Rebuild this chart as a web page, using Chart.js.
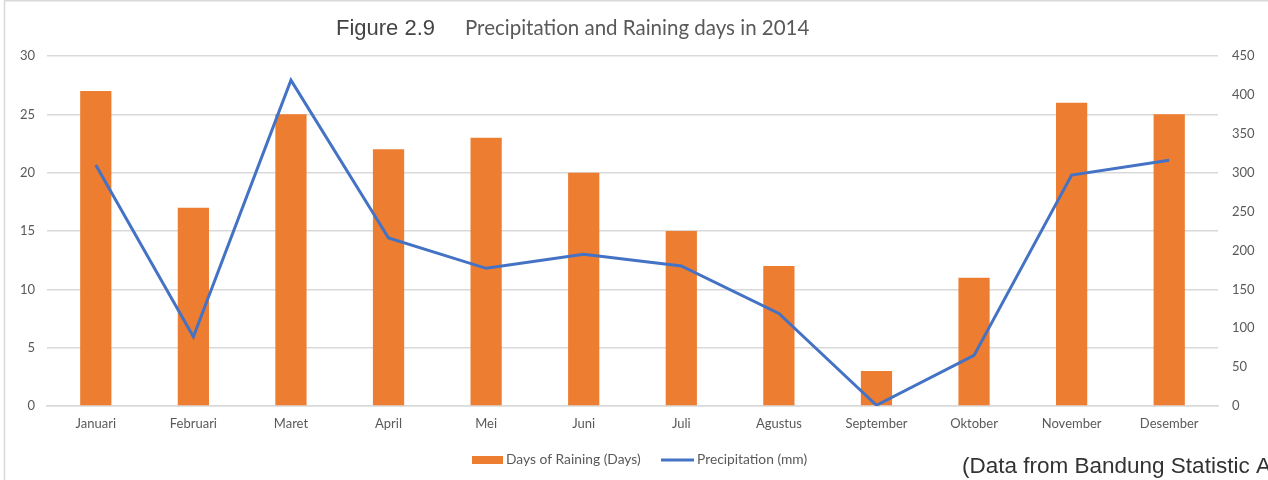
<!DOCTYPE html>
<html>
<head>
<meta charset="utf-8">
<script src="https://cdn.jsdelivr.net/npm/chart.js@4"></script>
<style>
  html, body { margin: 0; padding: 0; background: #fff; }
  #wrap { position: relative; width: 1268px; height: 480px; }
</style>
</head>
<body>
<div id="wrap"><canvas id="c" width="1268" height="480"></canvas></div>
<script>
const months = ["Januari","Februari","Maret","April","Mei","Juni","Juli","Agustus","September","Oktober","November","Desember"];
const rainingDays = [27, 17, 25, 22, 23, 20, 15, 12, 3, 11, 26, 25];
const precipitation = [310, 89, 419, 216, 177, 195, 180, 119, 1, 65, 297, 316];
const leftTicks = [0, 5, 10, 15, 20, 25, 30];
const rightTicks = [0, 50, 100, 150, 200, 250, 300, 350, 400, 450];
const figureLabel = "Figure 2.9";
const titleText = "Precipitation and Raining days in 2014";
const sourceText = "(Data from Bandung Statistic Agency)";

const FONT = "Lato, 'Open Sans', sans-serif";
const TICK_COLOR = "#595959";
const BAR_COLOR = "#ED7D31";
const LINE_COLOR = "#4472C4";

const decor = {
  id: 'decor',
  afterDraw(chart) {
    const ctx = chart.ctx;
    const barDs = chart.data.datasets.find(d => d.type === 'bar');
    const lineDs = chart.data.datasets.find(d => d.type === 'line');
    ctx.save();
    // frame
    ctx.strokeStyle = '#d9d9d9';
    ctx.lineWidth = 1.5;
    ctx.beginPath();
    ctx.moveTo(4.5, 480);
    ctx.lineTo(4.5, 0.75);
    ctx.lineTo(1268, 0.75);
    ctx.stroke();
    // title
    ctx.textBaseline = 'alphabetic';
    ctx.textAlign = 'left';
    ctx.fillStyle = '#444';
    ctx.font = "22px 'Liberation Sans', Arial, sans-serif";
    ctx.fillText(figureLabel, 336, 35);
    ctx.fillStyle = '#595959';
    ctx.font = "20.5px " + FONT;
    ctx.fillText(titleText, 465, 35);
    // legend
    ctx.font = "13.8px " + FONT;
    ctx.fillStyle = barDs.backgroundColor;
    ctx.fillRect(472, 456, 31, 8);
    ctx.fillStyle = TICK_COLOR;
    ctx.textBaseline = 'middle';
    ctx.fillText(barDs.label, 506, 460);
    ctx.strokeStyle = lineDs.borderColor;
    ctx.lineWidth = 3;
    ctx.beginPath();
    ctx.moveTo(661, 460);
    ctx.lineTo(694, 460);
    ctx.stroke();
    ctx.fillText(lineDs.label, 697, 460);
    // source
    ctx.fillStyle = '#333';
    ctx.font = "22.5px 'Liberation Sans', Arial, sans-serif";
    ctx.textBaseline = 'alphabetic';
    ctx.fillText(sourceText, 962, 473);
    ctx.restore();
  }
};

new Chart(document.getElementById('c'), {
  data: {
    labels: months,
    datasets: [
      {
        type: 'line',
        label: 'Precipitation (mm)',
        data: precipitation,
        yAxisID: 'yR',
        borderColor: LINE_COLOR,
        backgroundColor: LINE_COLOR,
        borderWidth: 3,
        pointRadius: 0,
        tension: 0,
        order: 0
      },
      {
        type: 'bar',
        label: 'Days of Raining (Days)',
        data: rainingDays,
        yAxisID: 'yL',
        backgroundColor: BAR_COLOR,
        borderWidth: 0,
        categoryPercentage: 1,
        barPercentage: 0.32,
        order: 1
      }
    ]
  },
  options: {
    responsive: false,
    animation: false,
    layout: { padding: { top: 56, bottom: 0, left: 0, right: 0 } },
    plugins: { legend: { display: false }, tooltip: { enabled: false } },
    scales: {
      x: {
        grid: { display: false, drawTicks: false },
        border: { display: true, color: '#d9d9d9', width: 1.5 },
        ticks: { color: TICK_COLOR, font: { family: FONT, size: 13 }, padding: 10, maxRotation: 0 },
        afterFit(s) { s.height = 74; }
      },
      yL: {
        position: 'left',
        min: 0, max: 30,
        afterBuildTicks(s) { s.ticks = leftTicks.map(v => ({ value: v })); },
        grid: { color: '#d9d9d9', lineWidth: 1.5, drawTicks: false },
        border: { display: false },
        ticks: { color: TICK_COLOR, font: { family: FONT, size: 13 }, padding: 12 },
        afterFit(s) { s.width = 47; }
      },
      yR: {
        position: 'right',
        min: 0, max: 450,
        afterBuildTicks(s) { s.ticks = rightTicks.map(v => ({ value: v })); },
        grid: { display: false, drawTicks: false },
        border: { display: false },
        ticks: { color: TICK_COLOR, font: { family: FONT, size: 13 }, padding: 14 },
        afterFit(s) { s.width = 50; }
      }
    }
  },
  plugins: [decor]
});
</script>
</body>
</html>
